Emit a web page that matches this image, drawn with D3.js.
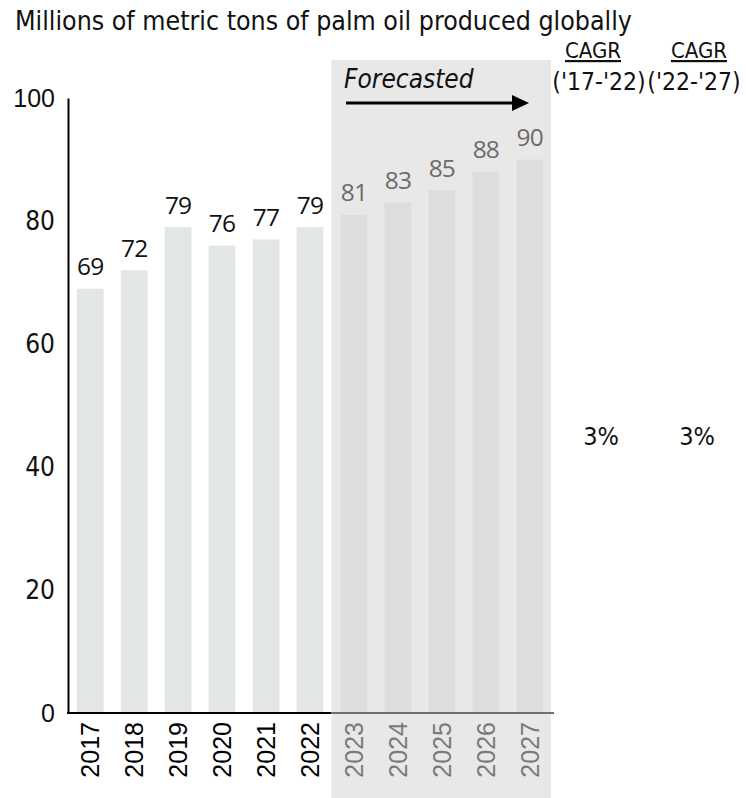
<!DOCTYPE html>
<html>
<head>
<meta charset="utf-8">
<script src="https://cdn.jsdelivr.net/npm/d3@7"></script>
<style>
  html, body { margin: 0; padding: 0; background: #fff; }
  svg { display: block; }
</style>
</head>
<body>
<script>
// Palm oil production, actual and forecast
const years = ["2017","2018","2019","2020","2021","2022","2023","2024","2025","2026","2027"];
const production = [69, 72, 79, 76, 77, 79, 81, 83, 85, 88, 90];
const forecastYears = ["2023","2024","2025","2026","2027"];
const yTicks = [0, 20, 40, 60, 80, 100];
const cagrHeaders = ["('17-'22)", "('22-'27)"];
const cagrValues = ["3%", "3%"];

const W = 746, H = 798;
const COND = "'DejaVu Sans Condensed', 'DejaVu Sans', sans-serif";
const ARIAL = "'Liberation Sans', Arial, sans-serif";

const svg = d3.select("body").append("svg").attr("width", W).attr("height", H);

const x = d3.scaleBand().domain(years).range([68, 552]).paddingInner(0.39).paddingOuter(0.2);
const y = d3.scaleLinear().domain([0, 100]).range([713, 98]);

const isF = d => forecastYears.includes(d);

// Forecast shading
const fx0 = x(forecastYears[0]) - x.step() * x.paddingInner() / 2 - 0.5;
svg.append("rect")
  .attr("x", fx0).attr("y", 60)
  .attr("width", 551 - fx0).attr("height", H - 60)
  .attr("fill", "#e8e8e8");

// Title
svg.append("text")
  .attr("x", 15).attr("y", 30)
  .attr("font-family", COND)
  .attr("font-size", 26.5).attr("fill", "#111")
  .text("Millions of metric tons of palm oil produced globally");

// Bars
svg.selectAll("rect.bar").data(years).join("rect")
  .attr("class", "bar")
  .attr("x", d => x(d))
  .attr("width", x.bandwidth())
  .attr("y", (d, i) => y(production[i]))
  .attr("height", (d, i) => y(0) - y(production[i]))
  .attr("fill", d => isF(d) ? "#dcdddc" : "#e3e6e6");

// Value labels
svg.selectAll("text.val").data(years).join("text")
  .attr("class", "val")
  .attr("x", d => x(d) + x.bandwidth() / 2)
  .attr("y", (d, i) => y(production[i]) - 13.5)
  .attr("text-anchor", "middle")
  .attr("font-family", "'Open Sans', sans-serif")
  .attr("font-size", 24.5)
  .attr("letter-spacing", -0.8)
  .attr("fill", d => isF(d) ? "#6b6b6b" : "#111")
  .text((d, i) => production[i]);

// Y axis
const yAxis = svg.append("g").attr("transform", "translate(68,0)")
  .call(d3.axisLeft(y).tickValues(yTicks).tickSize(0).tickPadding(13));
yAxis.select(".domain").attr("stroke", "#000").attr("stroke-width", 2);
yAxis.selectAll(".tick text")
  .attr("font-family", d => (d === 0 || d === 100) ? ARIAL : COND)
  .attr("font-size", d => (d === 0 || d === 100) ? 25 : 26)
  .attr("fill", "#111");

// X axis baseline
svg.append("line").attr("x1", 67).attr("x2", fx0).attr("y1", 713).attr("y2", 713)
  .attr("stroke", "#000").attr("stroke-width", 2);
svg.append("line").attr("x1", fx0).attr("x2", 554).attr("y1", 713).attr("y2", 713)
  .attr("stroke", "#6f6f6f").attr("stroke-width", 2);

// Year labels
svg.selectAll("text.yr").data(years).join("text")
  .attr("class", "yr")
  .attr("transform", d => `translate(${x(d) + x.bandwidth() / 2 + 9},722) rotate(-90)`)
  .attr("text-anchor", "end")
  .attr("font-family", ARIAL)
  .attr("font-size", 25)
  .attr("fill", d => isF(d) ? "#7a7a7a" : "#000")
  .text(d => d);

// Forecast label and arrow
svg.append("text")
  .attr("x", 344).attr("y", 88)
  .attr("font-family", COND)
  .attr("font-style", "italic")
  .attr("font-size", 26).attr("fill", "#111")
  .text("Forecasted");
svg.append("line").attr("x1", 346).attr("x2", 514).attr("y1", 103).attr("y2", 103)
  .attr("stroke", "#000").attr("stroke-width", 3);
svg.append("path").attr("d", "M512,95 L529,103 L512,111 Z").attr("fill", "#000");

// CAGR columns
const headX = [593, 699];
const spanX = [599, 694];
const valX = [601, 697];
cagrHeaders.forEach((label, i) => {
  svg.append("text")
    .attr("x", headX[i]).attr("y", 58)
    .attr("text-anchor", "middle")
    .attr("font-family", COND)
    .attr("font-size", 22).attr("fill", "#111")
    .attr("text-decoration", "underline")
    .text("CAGR");
  svg.append("text")
    .attr("x", spanX[i]).attr("y", 90)
    .attr("text-anchor", "middle")
    .attr("font-family", COND)
    .attr("font-size", 24.5).attr("fill", "#111")
    .text(label);
  svg.append("text")
    .attr("x", valX[i]).attr("y", 445)
    .attr("text-anchor", "middle")
    .attr("font-family", "'Liberation Sans Narrow', 'DejaVu Sans Condensed', sans-serif")
    .attr("font-size", 25).attr("fill", "#111")
    .text(cagrValues[i]);
});
</script>
</body>
</html>
